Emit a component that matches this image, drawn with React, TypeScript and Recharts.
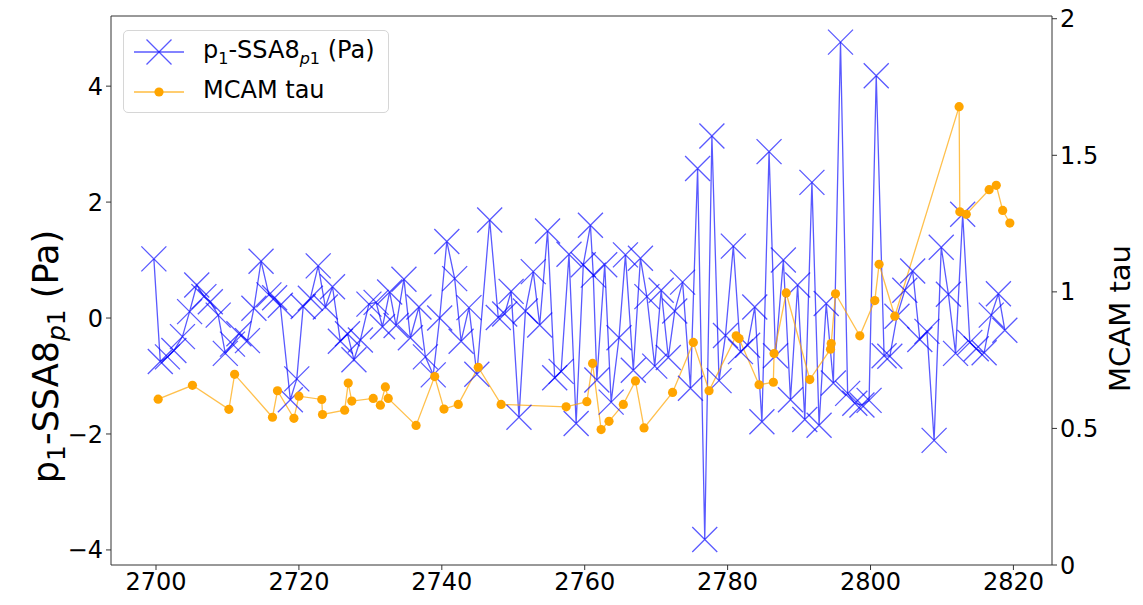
import React from 'react';
import { ComposedChart, Line, XAxis, YAxis, Legend, ReferenceLine } from 'recharts';

// p1 - SSA8p1 pressure (Pa), left axis
const pressX = [
  2699.7, 2700.6, 2701.6, 2702.5, 2703.7, 2704.7, 2705.7, 2706.7, 2707.6, 2708.7,
  2709.7, 2710.7, 2711.6, 2712.8, 2713.7, 2714.7, 2715.8, 2716.6, 2717.4, 2718.8,
  2719.7, 2720.6, 2721.6, 2722.7, 2723.7, 2724.7, 2725.8, 2726.8, 2727.7, 2728.6,
  2729.8, 2730.8, 2731.7, 2732.7, 2733.6, 2734.7, 2735.6, 2736.8, 2737.7, 2738.8,
  2739.7, 2740.7, 2741.8, 2742.7, 2743.8, 2744.9, 2746.7, 2747.9, 2748.8, 2749.7,
  2750.8, 2751.7, 2752.8, 2753.7, 2754.8, 2755.8, 2756.7, 2757.8, 2758.8, 2759.8,
  2760.8, 2761.2, 2761.7, 2762.8, 2763.7, 2764.8, 2765.7, 2766.8, 2767.8, 2768.7,
  2769.8, 2770.7, 2771.7, 2772.6, 2773.7, 2774.8, 2775.8, 2776.8, 2777.8, 2778.8,
  2779.7, 2780.8, 2781.8, 2782.8, 2783.8, 2784.8, 2785.8, 2786.7, 2787.8, 2788.8,
  2789.8, 2790.8, 2791.8, 2792.8, 2793.8, 2794.8, 2795.8, 2796.8, 2797.8, 2798.8,
  2799.8, 2800.8, 2801.9, 2802.7, 2803.7, 2804.8, 2805.9, 2806.9, 2807.9, 2808.9,
  2809.9, 2810.9, 2811.9, 2812.9, 2813.9, 2814.8, 2815.9, 2816.9, 2817.9, 2818.8,
];
const pressY = [
  1.02, -0.75, -0.67, -0.56, -0.32, 0.11, 0.57, 0.37, 0.28, 0.05,
  -0.61, -0.45, -0.27, -0.39, 0.17, 0.98, 0.40, 0.35, 0.22, -1.41,
  -1.05, 0.20, 0.34, 0.90, 0.19, 0.54, -0.40, -0.27, -0.72, -0.38,
  0.24, 0.27, -0.15, 0.45, -0.13, 0.67, -0.34, 0.19, -0.67, -0.98,
  0.00, 1.32, 0.68, -0.40, 0.18, -0.97, 1.69, 0.01, 0.07, 0.46,
  -1.71, 0.12, 0.80, -0.12, 1.50, -1.03, -0.92, 1.10, -1.82, 0.92,
  1.60, 0.74, -1.07, 0.92, -1.45, -0.34, 1.09, -0.90, 1.03, 0.37,
  -0.83, 0.48, -0.68, 0.12, 0.62, -1.21, 2.58, -3.82, 3.14, -1.08,
  -0.30, 1.24, -0.58, -0.47, 0.19, -1.79, 2.87, -0.65, 1.00, -1.41,
  0.57, -1.75, 2.34, -1.85, 0.25, -1.12, 4.76, -1.30, -1.47, -1.50,
  -1.42, 4.18, -0.65, -0.66, 0.03, 0.48, 0.81, -0.37, -0.23, -2.11,
  1.22, 0.41, -0.61, 1.79, -0.42, -0.53, -0.60, 0.05, 0.42, -0.21,
];

// MCAM tau, right axis
const tauX = [
  2700.3, 2705.1, 2710.2, 2711.0, 2716.3, 2717.0, 2719.3, 2720.0, 2723.2, 2723.3,
  2726.4, 2726.9, 2727.4, 2730.4, 2731.4, 2732.1, 2732.5, 2736.4, 2739.0, 2740.3,
  2742.3, 2745.1, 2748.3, 2757.4, 2760.3, 2761.1, 2762.3, 2763.4, 2765.4, 2767.1,
  2768.3, 2772.3, 2775.2, 2777.4, 2781.2, 2781.6, 2784.4, 2786.4, 2786.5, 2788.2,
  2791.5, 2794.4, 2794.5, 2795.1, 2798.5, 2800.6, 2801.2, 2803.4, 2812.4, 2812.5,
  2813.4, 2816.6, 2817.6, 2818.5, 2819.5,
];
const tauY = [
  0.607, 0.658, 0.570, 0.698, 0.541, 0.638, 0.537, 0.618, 0.606, 0.551,
  0.567, 0.666, 0.600, 0.610, 0.585, 0.652, 0.610, 0.511, 0.690, 0.571,
  0.588, 0.724, 0.588, 0.579, 0.598, 0.738, 0.496, 0.526, 0.588, 0.674,
  0.502, 0.632, 0.815, 0.638, 0.839, 0.829, 0.660, 0.669, 0.774, 0.996,
  0.679, 0.790, 0.811, 0.993, 0.839, 0.968, 1.101, 0.911, 1.678, 1.293,
  1.284, 1.374, 1.390, 1.298, 1.252,
];

const xTicks = [2700, 2720, 2740, 2760, 2780, 2800, 2820];
const leftTicks = [-4, -2, 0, 2, 4];
const rightTicks = [0, 0.5, 1, 1.5, 2];

const pressData = pressX.map((x, i) => ({ x, y: pressY[i] }));
const tauData = tauX.map((x, i) => ({ x, y: tauY[i] }));

const FONT = '"DejaVu Sans", sans-serif';
const BLUE = '#0000ff';
const ORANGE = '#ffa500';
const AXIS = '#333';
const LEFT_DOMAIN = [-4.26, 5.21];

const XMarker = (props: any) => {
  const { cx, cy } = props;
  if (cx == null || cy == null) return null;
  const s = 12.5;
  return (
    <path
      d={`M${cx - s},${cy - s}L${cx + s},${cy + s}M${cx - s},${cy + s}L${cx + s},${cy - s}`}
      stroke={BLUE}
      strokeOpacity={0.65}
      strokeWidth={1.3}
      fill="none"
    />
  );
};

const OrangeDot = (props: any) => {
  const { cx, cy } = props;
  if (cx == null || cy == null) return null;
  return <circle cx={cx} cy={cy} r={4.6} fill={ORANGE} />;
};

const LeftLabel = ({ viewBox }: any) => {
  const cx = viewBox.x + 58;
  const cy = viewBox.y + viewBox.height / 2 + 66;
  return (
    <text
      x={cx}
      y={cy}
      transform={`rotate(-90 ${cx} ${cy})`}
      textAnchor="middle"
      fontFamily={FONT}
      fontSize={35}
      fill="#000"
    >
      p
      <tspan dy={7} fontSize={25}>1</tspan>
      <tspan dy={-7}>-SSA8</tspan>
      <tspan dy={7} fontSize={25} fontStyle="italic">p</tspan>
      <tspan fontSize={25}>1</tspan>
      <tspan dy={-7}> (Pa)</tspan>
    </text>
  );
};

const RightLabel = ({ viewBox }: any) => {
  const cx = viewBox.x + 78;
  const cy = viewBox.y + viewBox.height / 2 + 28;
  return (
    <text
      x={cx}
      y={cy}
      transform={`rotate(-90 ${cx} ${cy})`}
      textAnchor="middle"
      fontFamily={FONT}
      fontSize={29}
      fill="#000"
    >
      MCAM tau
    </text>
  );
};

const LegendBox = () => (
  <div
    style={{
      width: 264,
      height: 81,
      border: '1px solid #d6d6d6',
      borderRadius: 5,
      background: 'rgba(255,255,255,0.85)',
      fontFamily: FONT,
      fontSize: 24,
      color: '#000',
      position: 'relative',
    }}
  >
    <svg width={70} height={81} style={{ position: 'absolute', left: 0, top: 0 }}>
      <line x1={10} y1={21} x2={60} y2={21} stroke={BLUE} strokeOpacity={0.65} strokeWidth={1.3} />
      <path d="M22.5,8.5L47.5,33.5M22.5,33.5L47.5,8.5" stroke={BLUE} strokeOpacity={0.65} strokeWidth={1.3} />
      <line x1={10} y1={61} x2={60} y2={61} stroke={ORANGE} strokeOpacity={0.75} strokeWidth={1.3} />
      <circle cx={35} cy={61} r={4.6} fill={ORANGE} />
    </svg>
    <div style={{ position: 'absolute', left: 79, top: 4, whiteSpace: 'nowrap', lineHeight: '30px' }}>
      p<sub style={{ fontSize: 16 }}>1</sub>-SSA8<sub style={{ fontSize: 16 }}><i>p</i>1</sub> (Pa)
    </div>
    <div style={{ position: 'absolute', left: 79, top: 44, whiteSpace: 'nowrap', lineHeight: '30px' }}>
      MCAM tau
    </div>
  </div>
);

const tickStyle = { fontFamily: FONT, fontSize: 24, fill: '#000' };
const fmtMinus = (v: number) => String(v).replace('-', '\u2212');

export default function App() {
  const xDomain = [2693.7, 2825.4];
  return (
    <div style={{ position: 'absolute', left: 0, top: 0, background: '#fff' }}>
      <ComposedChart width={1143} height={605} margin={{ top: 16, right: 0, bottom: 0, left: 0 }}>
        <XAxis
          xAxisId="bottom"
          type="number"
          dataKey="x"
          domain={xDomain}
          ticks={xTicks}
          allowDataOverflow
          height={40}
          tick={tickStyle}
          tickSize={5}
          tickMargin={3}
          stroke={AXIS}
        />
        <YAxis
          yAxisId="left"
          type="number"
          domain={LEFT_DOMAIN}
          ticks={leftTicks}
          allowDataOverflow
          width={111}
          tick={tickStyle}
          tickFormatter={fmtMinus}
          tickSize={5}
          tickMargin={3}
          stroke={AXIS}
          label={<LeftLabel />}
        />
        <YAxis
          yAxisId="right"
          orientation="right"
          type="number"
          domain={[0, 2.01]}
          ticks={rightTicks}
          allowDataOverflow
          width={91}
          tick={tickStyle}
          tickSize={5}
          tickMargin={3}
          stroke={AXIS}
          label={<RightLabel />}
        />
        {/* top frame line */}
        <ReferenceLine xAxisId="bottom" yAxisId="left" y={LEFT_DOMAIN[1]} stroke={AXIS} strokeWidth={1} ifOverflow="visible" />
        <Legend
          layout="vertical"
          align="center"
          verticalAlign="middle"
          content={<LegendBox />}
          wrapperStyle={{ position: 'absolute', left: 123, top: 30, width: 266, height: 83 }}
        />
        <Line
          data={pressData}
          xAxisId="bottom"
          yAxisId="left"
          dataKey="y"
          type="linear"
          stroke={BLUE}
          strokeOpacity={0.65}
          strokeWidth={1.3}
          dot={<XMarker />}
          activeDot={false}
          isAnimationActive={false}
        />
        <Line
          data={tauData}
          xAxisId="bottom"
          yAxisId="right"
          dataKey="y"
          type="linear"
          stroke={ORANGE}
          strokeOpacity={0.7}
          strokeWidth={1.3}
          dot={<OrangeDot />}
          activeDot={false}
          isAnimationActive={false}
        />
      </ComposedChart>
    </div>
  );
}
